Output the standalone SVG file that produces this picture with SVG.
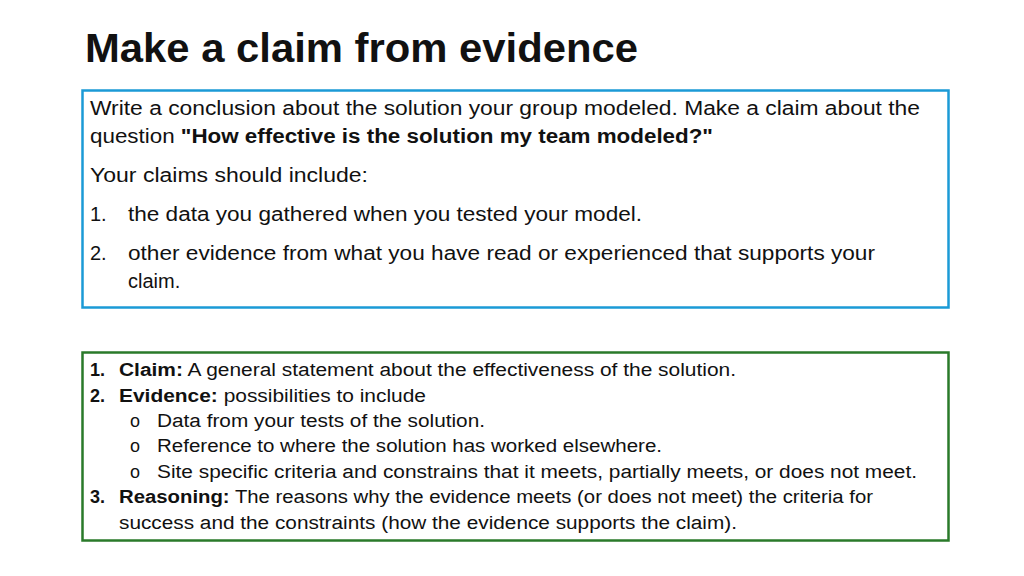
<svg xmlns="http://www.w3.org/2000/svg" width="1024" height="576" viewBox="0 0 1024 576">
<style>
text{font-family:"Liberation Sans","Open Sans",sans-serif;fill:#111}
.t1{font-size:20px}
.t2{font-size:18px}
.b{font-weight:bold}
</style>
<rect width="1024" height="576" fill="#fff"/>
<text x="85" y="62" font-size="40" font-weight="bold" textLength="553" lengthAdjust="spacingAndGlyphs">Make a claim from evidence</text>
<g id="box1">
<rect x="82.5" y="90.5" width="866" height="217" fill="none" stroke="#1b9ad6" stroke-width="2.5"/>
<text class="t1" x="90" y="115" textLength="830" lengthAdjust="spacingAndGlyphs">Write a conclusion about the solution your group modeled. Make a claim about the</text>
<text class="t1" x="90" y="143" textLength="623" lengthAdjust="spacingAndGlyphs">question <tspan class="b">"How effective is the solution my team modeled?"</tspan></text>
<text class="t1" x="90" y="182" textLength="278" lengthAdjust="spacingAndGlyphs">Your claims should include:</text>
<text class="t1" x="90" y="221">1.</text>
<text class="t1" x="128" y="221" textLength="514" lengthAdjust="spacingAndGlyphs">the data you gathered when you tested your model.</text>
<text class="t1" x="90" y="260">2.</text>
<text class="t1" x="128" y="260" textLength="747" lengthAdjust="spacingAndGlyphs">other evidence from what you have read or experienced that supports your</text>
<text class="t1" x="128" y="288">claim.</text>
</g>
<g id="box2">
<rect x="82.5" y="352.5" width="866" height="188" fill="none" stroke="#2a7a2a" stroke-width="2.5"/>
<text class="t2 b" x="90" y="376">1.</text>
<text class="t2" x="119" y="376" textLength="617" lengthAdjust="spacingAndGlyphs"><tspan class="b">Claim:</tspan>  A general statement about the effectiveness of the solution.</text>
<text class="t2 b" x="90" y="402">2.</text>
<text class="t2" x="119" y="402" textLength="307" lengthAdjust="spacingAndGlyphs"><tspan class="b">Evidence:</tspan> possibilities to include</text>
<text class="t2" x="130" y="427">o</text>
<text class="t2" x="157" y="427" textLength="328" lengthAdjust="spacingAndGlyphs">Data from your tests of the solution.</text>
<text class="t2" x="130" y="452">o</text>
<text class="t2" x="157" y="452" textLength="505" lengthAdjust="spacingAndGlyphs">Reference to where the solution has worked elsewhere.</text>
<text class="t2" x="130" y="478">o</text>
<text class="t2" x="157" y="478" textLength="760" lengthAdjust="spacingAndGlyphs">Site specific criteria and constrains that it meets, partially meets, or does not meet.</text>
<text class="t2 b" x="90" y="503">3.</text>
<text class="t2" x="119" y="503" textLength="754" lengthAdjust="spacingAndGlyphs"><tspan class="b">Reasoning:</tspan> The reasons why the evidence meets (or does not meet) the criteria for</text>
<text class="t2" x="119" y="529" textLength="618" lengthAdjust="spacingAndGlyphs">success and the constraints (how the evidence supports the claim).</text>
</g>
</svg>
